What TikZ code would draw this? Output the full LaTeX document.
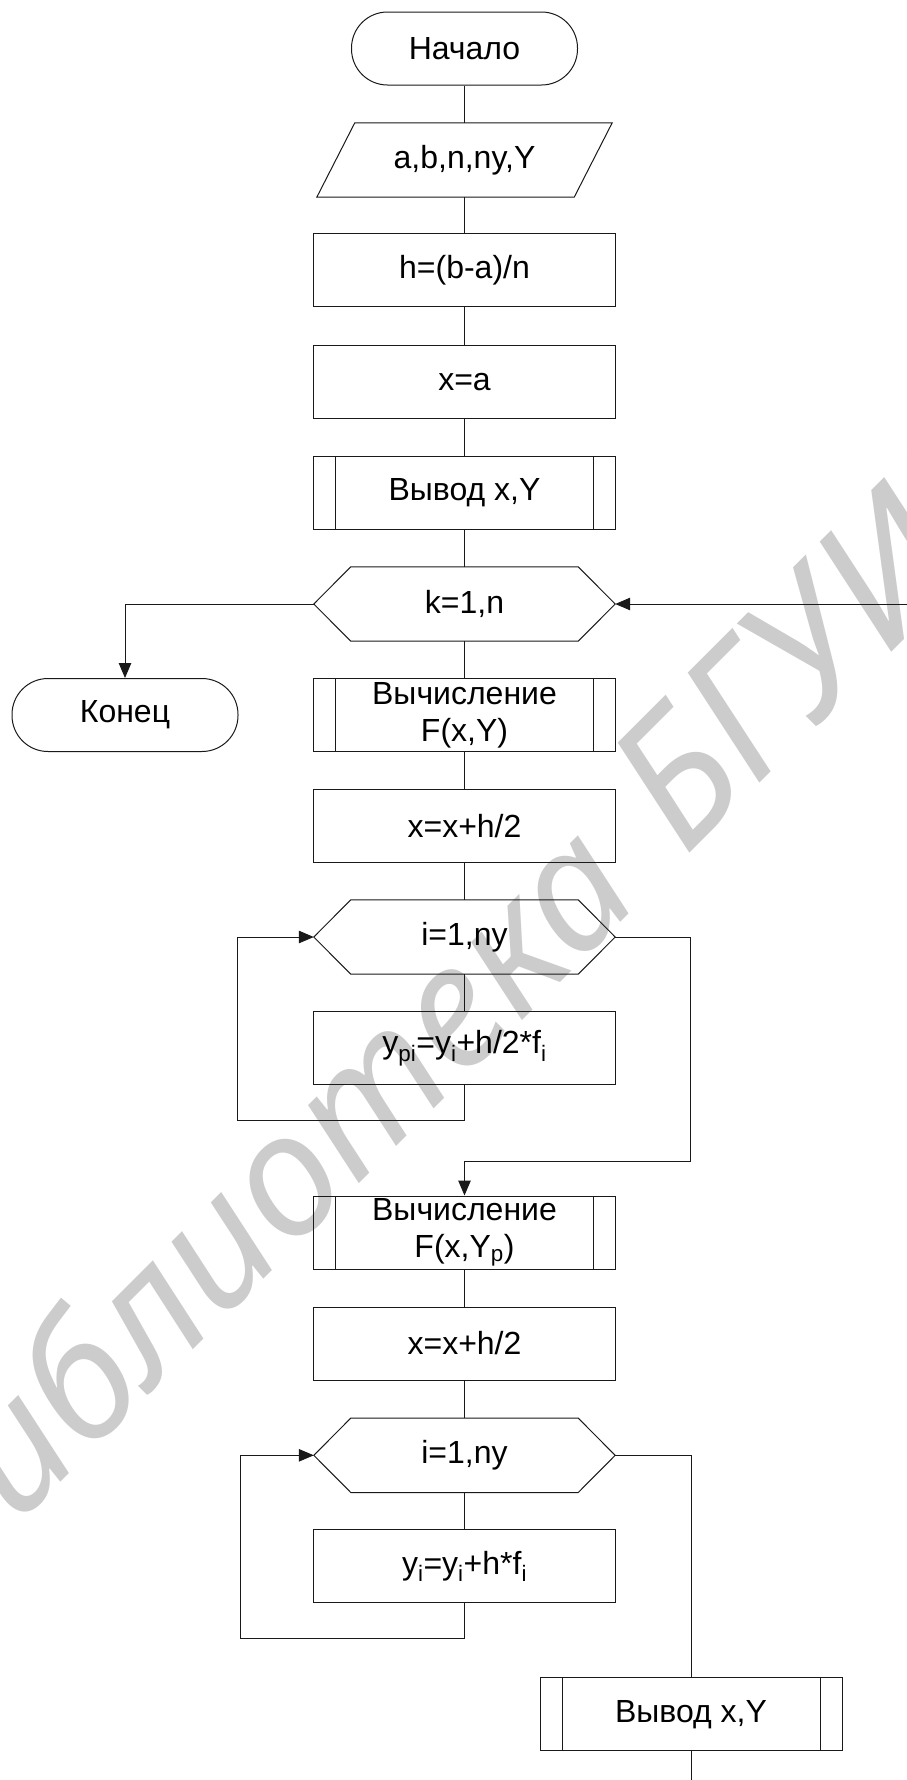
\documentclass[tikz,border=0pt]{standalone}
\usepackage{fontspec}
\setmainfont{Liberation Sans}
\newfontfamily\wmfont{Noto Sans}
\usetikzlibrary{arrows.meta}
\definecolor{ink}{RGB}{25,25,25}
\definecolor{wmgray}{RGB}{204,204,204}

\tikzset{
  every node/.style={font=\fontsize{32}{37}\selectfont, align=center, inner sep=0pt},
  blk/.style={draw=ink, line width=1pt, minimum width=302pt, minimum height=73pt},
  term/.style={blk, minimum width=226pt, rounded corners=36pt},
  subproc/.style={blk, path picture={
      \draw[ink, line width=1pt]
        ([xshift=22pt]path picture bounding box.north west) -- ([xshift=22pt]path picture bounding box.south west)
        ([xshift=-22pt]path picture bounding box.north east) -- ([xshift=-22pt]path picture bounding box.south east);}},
  hexbox/.style={minimum width=301pt, minimum height=74pt},
  iobox/.style={minimum width=257pt, minimum height=74pt},
  conn/.style={draw=ink, line width=1pt},
  arr/.style={conn, -{Triangle[length=15pt,width=12.5pt]}},
  wmtext/.style={font=\wmfont\itshape\fontsize{170}{172}\selectfont, text=wmgray, inner sep=0pt, rotate=45},
  wmcaps/.style={wmtext, font=\wmfont\itshape\fontsize{180}{182}\selectfont}
}

% outline of a loop-limit hexagon drawn around a named node
\newcommand\hexpath[1]{%
  \draw[ink, line width=1pt] (#1.west) -- ([xshift=37pt]#1.north west) -- ([xshift=-37pt]#1.north east)
    -- (#1.east) -- ([xshift=-37pt]#1.south east) -- ([xshift=37pt]#1.south west) -- cycle;}

\begin{document}
\begin{tikzpicture}[x=1pt, y=-1pt]
\useasboundingbox (0,0) rectangle (907,1780);
\clip (0,0) rectangle (907,1780);

% library stamp in the background
\node[wmtext, anchor=base east] (stamp1) at (646,897) {библиотека};
\node[wmcaps, anchor=base west] (stamp2) at (685,858) {БГУИР};

% main column
\node[term] (start) at (464.5,48.5) {Начало};
\node[iobox] (input) at (464.5,160) {a,b,n,ny,Y};
\draw[ink, line width=1pt] ([xshift=19pt]input.north west) -- ([xshift=19pt]input.north east)
  -- ([xshift=-19pt]input.south east) -- ([xshift=-19pt]input.south west) -- cycle;
\node[blk] (hstep) at (464.5,270) {h=(b-a)/n};
\node[blk] (xinit) at (464.5,382) {x=a};
\node[subproc] (out1) at (464.5,493) {Вывод x,Y};
\node[hexbox] (kloop) at (464.5,604) {k=1,n};
\hexpath{kloop}
\node[term] (finish) at (125,715) {Конец};
\node[subproc] (calc1) at (464.5,715) {Вычисление\\F(x,Y)};
\node[blk] (half1) at (464.5,826) {x=x+h/2};
\node[hexbox] (iloop1) at (464.5,937) {i=1,ny};
\hexpath{iloop1}
\node[blk] (pred) at (464.5,1048) {y\textsubscript{pi}=y\textsubscript{i}+h/2*f\textsubscript{i}};
\node[subproc] (calc2) at (464.5,1232.5) {Вычисление\\F(x,Y\textsubscript{p})};
\node[blk] (half2) at (464.5,1343.5) {x=x+h/2};
\node[hexbox] (iloop2) at (464.5,1455.3) {i=1,ny};
\hexpath{iloop2}
\node[blk] (corr) at (464.5,1566.3) {y\textsubscript{i}=y\textsubscript{i}+h*f\textsubscript{i}};
\node[subproc] (out2) at (691,1714.3) {Вывод x,Y};

% bends and free ends of connectors
\coordinate (kback) at (907,604);
\coordinate (back1) at (237.7,1120);
\coordinate (exit1) at (690.7,1161);
\coordinate (back2) at (240,1638.3);
\coordinate (tail) at (691,1780);

% straight flow
\draw[conn] (start) -- (input);
\draw[conn] (input) -- (hstep);
\draw[conn] (hstep) -- (xinit);
\draw[conn] (xinit) -- (out1);
\draw[conn] (out1) -- (kloop);
\draw[conn] (kloop) -- (calc1);
\draw[conn] (calc1) -- (half1);
\draw[conn] (half1) -- (iloop1);
\draw[conn] (iloop1) -- (pred);
\draw[conn] (calc2) -- (half2);
\draw[conn] (half2) -- (iloop2);
\draw[conn] (iloop2) -- (corr);
\draw[conn] (out2) -- (tail);

% loops and exits
\draw[arr] (kloop.west) -| (finish.north);
\draw[arr] (kback) -- (kloop.east);
\draw[arr] (pred.south) |- (back1) |- (iloop1.west);
\draw[conn] (iloop1.east) -| (exit1);
\draw[arr] (exit1) -| (calc2.north);
\draw[arr] (corr.south) |- (back2) |- (iloop2.west);
\draw[conn] (iloop2.east) -| (out2.north);
\end{tikzpicture}
\end{document}
